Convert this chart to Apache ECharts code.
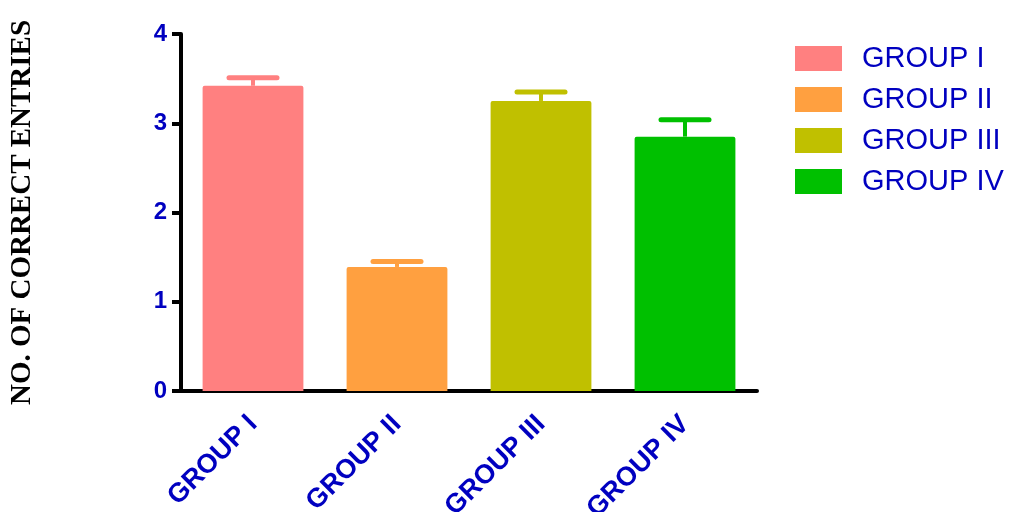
<!DOCTYPE html>
<html>
<head>
<meta charset="utf-8">
<script src="https://cdn.jsdelivr.net/npm/echarts@6/dist/echarts.min.js"></script>
<style>html,body{margin:0;padding:0;background:#fff;}#c{width:1011px;height:512px;}</style>
</head>
<body>
<div id="c"></div>
<script>
var categories = ['GROUP I', 'GROUP II', 'GROUP III', 'GROUP IV'];
var means = [3.42, 1.39, 3.25, 2.85];
var sems = [0.09, 0.06, 0.10, 0.19];
var colors = ['#FF8080', '#FFA040', '#C0C000', '#00C000'];
var yTicks = [0, 1, 2, 3, 4];

var blue = '#0000C0';
var chart = echarts.init(document.getElementById('c'));

var barSeries = categories.map(function (name, i) {
  var d = categories.map(function (c, j) { return j === i ? means[i] : '-'; });
  return {
    name: name,
    type: 'bar',
    data: d,
    barWidth: '70%',
    barGap: '-100%',
    itemStyle: { color: colors[i], borderRadius: [2, 2, 0, 0] },
    z: 2
  };
});

var errData = categories.map(function (c, i) { return [i, means[i], means[i] + sems[i]]; });

var errSeries = {
  type: 'custom',
  name: 'err',
  data: errData,
  z: 3,
  renderItem: function (params, api) {
    var i = api.value(0);
    var lo = api.coord([i, api.value(1)]);
    var hi = api.coord([i, api.value(2)]);
    var half = 24;
    var col = colors[i];
    return {
      type: 'group',
      children: [
        { type: 'line', shape: { x1: lo[0], y1: lo[1], x2: hi[0], y2: hi[1] }, style: { stroke: col, lineWidth: 4 } },
        { type: 'line', shape: { x1: hi[0] - half, y1: hi[1], x2: hi[0] + half, y2: hi[1] }, style: { stroke: col, lineWidth: 5, lineCap: 'round' } }
      ]
    };
  }
};

chart.setOption({
  animation: false,
  grid: { left: 181, right: 254, top: 34, bottom: 121, containLabel: false, outerBoundsMode: 'none' },
  legend: {
    data: categories,
    orient: 'vertical',
    left: 795,
    top: 44,
    padding: 0,
    itemWidth: 47,
    itemHeight: 25,
    itemGap: 12,
    icon: 'rect',
    textStyle: { color: blue, fontSize: 29, fontFamily: 'Liberation Sans, Arial, sans-serif', padding: [0, 0, 0, 15] }
  },
  xAxis: {
    type: 'category',
    data: categories,
    axisLine: { lineStyle: { color: '#000', width: 4 } },
    axisTick: { alignWithLabel: true, length: 8, lineStyle: { color: '#000', width: 4 } },
    axisLabel: { rotate: 45, color: blue, fontWeight: 'bold', fontSize: 27, fontFamily: 'Liberation Sans, Arial, sans-serif', margin: 29 },
    splitLine: { show: false }
  },
  yAxis: {
    type: 'value',
    min: yTicks[0],
    max: yTicks[yTicks.length - 1],
    interval: 1,
    name: 'NO. OF CORRECT ENTRIES',
    nameLocation: 'middle',
    nameRotate: 90,
    nameGap: 144,
    nameTextStyle: { color: '#000', fontSize: 29, fontWeight: 'bold', fontFamily: 'Liberation Serif, Times New Roman, serif' },
    axisLine: { show: true, lineStyle: { color: '#000', width: 4 } },
    axisTick: { show: true, length: 9, lineStyle: { color: '#000', width: 4 } },
    axisLabel: { color: blue, fontWeight: 'bold', fontSize: 24, fontFamily: 'Liberation Sans, Arial, sans-serif', margin: 14 },
    splitLine: { show: false }
  },
  series: barSeries.concat([errSeries])
});
</script>
</body>
</html>
